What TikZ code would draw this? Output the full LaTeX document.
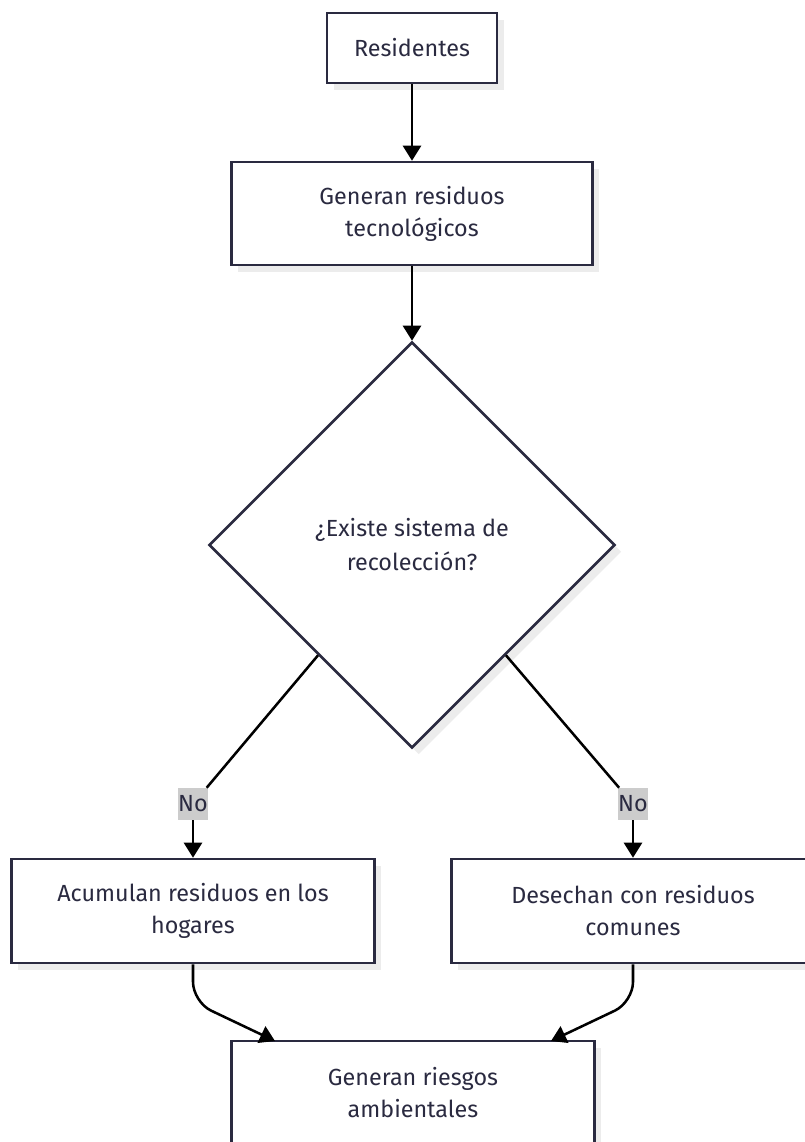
\documentclass[tikz,border=0pt]{standalone}
\usepackage{fontspec}
\setmainfont{Fira Sans}
\usetikzlibrary{positioning,calc}
\usetikzlibrary{arrows.meta}
\usetikzlibrary{shapes.geometric,shadows}
\definecolor{nodeink}{RGB}{42,42,64}
\definecolor{shadowgray}{RGB}{236,236,236}
\definecolor{labelgray}{RGB}{204,204,204}
\tikzset{
        chartnode/.style={align=center, inner sep=0pt, draw=nodeink, line width=1.9pt, fill=white, text=nodeink,
            font=\fontsize{17.5pt}{24pt}\selectfont,
            drop shadow={shadow xshift=5pt, shadow yshift=-5pt, fill=shadowgray, opacity=1}},
        % Process boxes
        node_process/.style={chartnode, rectangle, minimum width=272.25pt, minimum height=78pt},
        % Decision node
        node_decision/.style={chartnode, diamond, aspect=1, minimum width=304.5pt, minimum height=304.5pt,
            font=\fontsize{17.5pt}{25.5pt}\selectfont},
        % Edge labels
        node_label/.style={fill=labelgray, text=nodeink, inner sep=0pt, minimum width=21pt, minimum height=24pt,
            font=\fontsize{17.5pt}{20pt}\selectfont},
        % Connectors
        link/.style={draw=black, line width=1.9pt},
        flow/.style={link, -{Triangle[length=11.25pt,width=13.5pt]}}
}
\begin{document}
\begin{tikzpicture}[x=0.75pt, y=-0.75pt]
            \useasboundingbox (0,0) rectangle (805,1142);
            \node[node_process, minimum width=127.5pt, minimum height=52.5pt] (res) at (412,48) {Residentes};
            \node[node_process, minimum width=270.75pt, minimum height=77.25pt] (gen) at (412,213.5) {Generan residuos\\tecnológicos};
            \node[node_decision] (dia) at (412,545) {¿Existe sistema de\\recolección?};
            \node[node_label] (noL) at (193,804) {No};
            \node[node_label] (noR) at (633,804) {No};
            \node[node_process] (acum) at (193,911) {Acumulan residuos en los\\hogares};
            \node[node_process] (des) at (633,911) {Desechan con residuos\\comunes};
            \node[node_process] (rie) at (413,1093) {Generan riesgos\\ambientales};
            % points on the diamond and bends
            \coordinate (dL) at ($(dia.west)!0.54!(dia.south)$);
            \coordinate (dR) at ($(dia.east)!0.54!(dia.south)$);
            \coordinate (bendL) at (193,1002);
            \coordinate (bendR) at (633,1002);
            \coordinate (tipL) at (275,1041);
            \coordinate (tipR) at (551,1041);
            \draw[flow] (res) -- (gen);
            \draw[flow] (gen) -- (dia);
            \draw[link] (dL) -- (noL);
            \draw[flow] (noL) -- (acum);
            \draw[link] (dR) -- (noR);
            \draw[flow] (noR) -- (des);
            \draw[flow, rounded corners=15pt] (acum.south) -- (bendL) -- (tipL);
            \draw[flow, rounded corners=15pt] (des.south) -- (bendR) -- (tipR);
        \end{tikzpicture}
\end{document}
